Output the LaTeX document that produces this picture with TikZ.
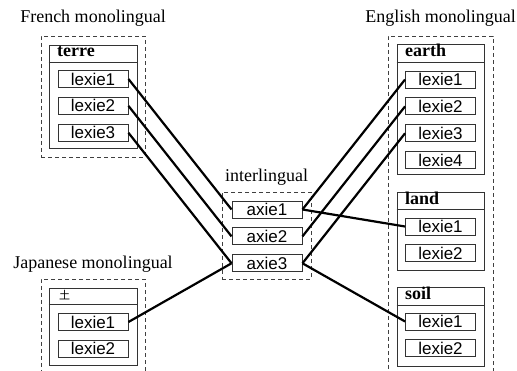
\documentclass[tikz,border=0pt]{standalone}
\usepackage{fontspec}
\setmainfont{Liberation Serif}
\setsansfont{Liberation Sans}
\newfontfamily\jpfont{Noto Sans CJK JP}
\usepackage{tikz}
\usetikzlibrary{positioning}

\begin{document}
\begin{tikzpicture}[x=1pt,y=-1pt]
\tikzstyle{group} = [rectangle, draw=black!75, line width=0.8pt, dash pattern=on 4pt off 3pt, inner sep=0pt]
\tikzstyle{entry} = [rectangle, draw=black!80, line width=0.9pt, inner sep=0pt]
\tikzstyle{lexie} = [rectangle, draw=black!80, line width=0.9pt, inner sep=0pt,
minimum width=70pt, minimum height=17pt, font=\sffamily\fontsize{17}{17}\selectfont]
\tikzstyle{headword} = [anchor=base west, inner sep=0pt, font=\bfseries\fontsize{18}{18}\selectfont]
\tikzstyle{title} = [anchor=base, inner sep=0pt, font=\fontsize{18}{18}\selectfont]
\tikzstyle{link} = [draw, line width=2.2pt]
\useasboundingbox (0,0) rectangle (517,371);

% French monolingual
\node[title] (frtitle) at (93,23) {French monolingual};
\node[group, minimum width=104pt, minimum height=121pt] (frgroup) at (93,96.5) {};
\node[entry, minimum width=88pt, minimum height=103pt] (terre) at (93,96.5) {};
\draw[entry] (terre.west |- 0,62) -- (terre.east |- 0,62);
\node[headword] (terrehw) at (57,57) {terre};
\node[lexie] (fr1) at (93,79) {lexie1};
\node[lexie, below=9pt of fr1] (fr2) {lexie2};
\node[lexie, below=9pt of fr2] (fr3) {lexie3};

% Japanese monolingual
\node[title] (jptitle) at (93,269) {Japanese monolingual};
\node[group, minimum width=104pt, minimum height=121pt] (jpgroup) at (93,339.5) {};
\node[entry, minimum width=88pt, minimum height=77pt] (tsuchi) at (93,326.5) {};
\draw[entry] (tsuchi.west |- 0,304) -- (tsuchi.east |- 0,304);
\node[headword, font=\jpfont\fontsize{11}{11}\selectfont] (tsuchihw) at (59,300) {土};
\node[lexie] (jp1) at (93,322) {lexie1};
\node[lexie, below=9pt of jp1] (jp2) {lexie2};

% interlingual
\node[title] (iltitle) at (266.5,182) {interlingual};
\node[group, minimum width=89pt, minimum height=87pt] (ilgroup) at (266.5,235.5) {};
\node[lexie] (axie1) at (267,209.5) {axie1};
\node[lexie, below=9pt of axie1] (axie2) {axie2};
\node[lexie, below=9pt of axie2] (axie3) {axie3};

% English monolingual
\node[title] (entitle) at (440.5,23) {English monolingual};
\node[group, minimum width=105pt, minimum height=364pt] (engroup) at (440.5,218) {};
\node[entry, minimum width=87pt, minimum height=130pt] (earth) at (440.5,109) {};
\draw[entry] (earth.west |- 0,62) -- (earth.east |- 0,62);
\node[headword] (earthhw) at (405,57) {earth};
\node[lexie] (en1) at (440.5,79.5) {lexie1};
\node[lexie, below=9pt of en1] (en2) {lexie2};
\node[lexie, below=9pt of en2] (en3) {lexie3};
\node[lexie, below=9pt of en3] (en4) {lexie4};
% row 2
\node[entry, minimum width=87pt, minimum height=78pt] (land) at (440.5,231) {};
\draw[entry] (land.west |- 0,209) -- (land.east |- 0,209);
\node[headword] (landhw) at (405,205) {land};
\node[lexie] (ld1) at (440.5,226.5) {lexie1};
\node[lexie, below=9pt of ld1] (ld2) {lexie2};
% row 3
\node[entry, minimum width=87pt, minimum height=79pt] (soil) at (440.5,326.5) {};
\draw[entry] (soil.west |- 0,305) -- (soil.east |- 0,305);
\node[headword] (soilhw) at (405,300) {soil};
\node[lexie] (sl1) at (440.5,321.5) {lexie1};
\node[lexie, below=9pt of sl1] (sl2) {lexie2};

\tikzstyle{every path}=[link]
\path (fr1.east) -- (axie1.west);
\path (fr2.east) -- (axie2.west);
\path (fr3.east) -- (axie3.west);
\path (jp1.east) -- (axie3.west);
\path (en1.west) -- (axie1.east);
\path (en2.west) -- (axie2.east);
\path (en3.west) -- (axie3.east);
\path (axie1.east) -- (ld1.west);
\path (axie3.east) -- (sl1.west);
\end{tikzpicture}
\end{document}
